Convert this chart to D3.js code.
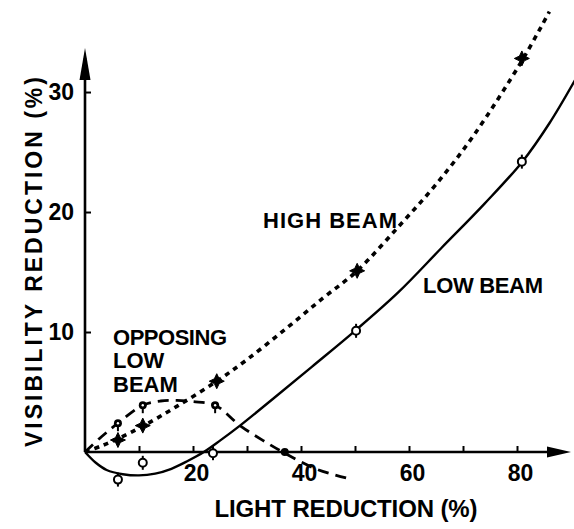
<!DOCTYPE html>
<html>
<head>
<meta charset="utf-8">
<script src="https://cdn.jsdelivr.net/npm/d3@7"></script>
<style>
  html, body { margin: 0; padding: 0; background: #fff; }
  svg { display: block; font-family: "Liberation Sans", Arial, sans-serif; font-weight: bold; }
</style>
</head>
<body>
<svg id="chart" width="574" height="529"></svg>
<script>
// ---------- data ----------
const xTicks = [10, 20, 30, 40, 50, 60, 70, 80];
const xTickLabels = [20, 40, 60, 80];
const yTicks = [10, 20, 30];

// measured points
const lowBeamX = [6.1, 10.7, 23.7, 50.2, 80.9];
const lowBeamY = [-2.3, -0.9, -0.1, 10.1, 24.2];
const highBeamX = [6.1, 10.7, 24.4, 50.4, 80.9];
const highBeamY = [1.0, 2.2, 5.9, 15.1, 32.8];
const opposingX = [6.1, 10.7, 24.1, 37];
const opposingY = [2.4, 3.9, 3.9, 0];

// hand-faired curves as drawn in the figure
const lowCurveX = [0, 2, 4, 7, 10, 13, 16, 19, 22, 25, 28.7, 35, 42, 50, 58, 66, 74, 81, 86, 91];
const lowCurveY = [0, -0.9, -1.5, -1.85, -1.95, -1.8, -1.4, -0.75, 0, 0.95, 2.2, 4.5, 7.1, 10.1, 13.3, 17, 20.7, 24.2, 27.4, 31.2];
const highCurveX = [0, 3, 6.1, 10.7, 17, 24.4, 30, 37, 44, 50.4, 58.3, 65, 72, 80.9, 86];
const highCurveY = [0, 0.5, 1.1, 2.15, 3.8, 5.9, 7.7, 10.2, 12.8, 15.1, 18.9, 22.3, 26.4, 32.6, 36.7];
const oppCurveX = [0, 3, 6.1, 10.7, 14, 17, 20, 24.1, 28.7, 33, 37, 43, 49.6];
const oppCurveY = [0, 1.25, 2.4, 3.9, 4.25, 4.3, 4.2, 3.9, 2.2, 0.95, -0.1, -1.45, -2.3];

// ---------- scales ----------
const svg = d3.select('#chart');
const x = d3.scaleLinear().domain([0, 90]).range([85, 571]);
const y = d3.scaleLinear().domain([0, 33.67]).range([452, 48]);

const zip = (xs, ys) => xs.map((v, i) => [v, ys[i]]);
const line = d3.line().x(d => x(d[0])).y(d => y(d[1])).curve(d3.curveCatmullRom.alpha(0.5));

// ---------- axes ----------
const xAxis = d3.axisBottom(x)
  .tickValues(xTicks)
  .tickSize(-6)
  .tickPadding(13)
  .tickFormat(d => xTickLabels.includes(d) ? d : '');
const gx = svg.append('g').attr('transform', `translate(0,${y(0)})`).call(xAxis);
gx.select('.domain').remove();
gx.selectAll('.tick line').attr('stroke', '#000').attr('stroke-width', 2);
gx.selectAll('.tick text').attr('fill', '#000').attr('font-size', 23).attr('dx', 3)
  .attr('font-family', '"Liberation Sans", Arial, sans-serif').attr('font-weight', 'bold');

const yAxis = d3.axisLeft(y)
  .tickValues(yTicks)
  .tickSize(-6)
  .tickPadding(11);
const gy = svg.append('g').attr('transform', `translate(${x(0)},0)`).call(yAxis);
gy.select('.domain').remove();
gy.selectAll('.tick line').attr('stroke', '#000').attr('stroke-width', 2);
gy.selectAll('.tick text').attr('fill', '#000').attr('font-size', 23)
  .attr('font-family', '"Liberation Sans", Arial, sans-serif').attr('font-weight', 'bold');

// axis lines with arrow heads
svg.append('line')
  .attr('x1', x(0)).attr('y1', y(0)).attr('x2', x(90) - 10).attr('y2', y(0))
  .attr('stroke', '#000').attr('stroke-width', 2.6);
svg.append('path')
  .attr('d', `M${x(90)},${y(0)} L${x(90) - 24},${y(0) - 5.5} L${x(90) - 24},${y(0) + 5.5} Z`)
  .attr('fill', '#000');
svg.append('line')
  .attr('x1', x(0)).attr('y1', y(0)).attr('x2', x(0)).attr('y2', y(33.67) + 10)
  .attr('stroke', '#000').attr('stroke-width', 2.6);
svg.append('path')
  .attr('d', `M${x(0)},${y(33.67)} L${x(0) - 5.5},${y(33.67) + 32} L${x(0) + 5.5},${y(33.67) + 32} Z`)
  .attr('fill', '#000');

// axis titles
svg.append('text')
  .attr('x', 346).attr('y', 517)
  .attr('text-anchor', 'middle')
  .attr('font-size', 24)
  .attr('textLength', 263).attr('lengthAdjust', 'spacing')
  .text('LIGHT REDUCTION (%)');
svg.append('text')
  .attr('transform', 'translate(42,262) rotate(-90)')
  .attr('text-anchor', 'middle')
  .attr('font-size', 23)
  .attr('textLength', 370).attr('lengthAdjust', 'spacing')
  .text('VISIBILITY REDUCTION (%)');

// ---------- curves ----------
svg.append('path')
  .datum(zip(lowCurveX, lowCurveY))
  .attr('d', line)
  .attr('fill', 'none').attr('stroke', '#000').attr('stroke-width', 2.4);

svg.append('path')
  .datum(zip(highCurveX, highCurveY))
  .attr('d', line)
  .attr('fill', 'none').attr('stroke', '#000').attr('stroke-width', 3.6)
  .attr('stroke-dasharray', '5,5');

svg.append('path')
  .datum(zip(oppCurveX, oppCurveY))
  .attr('d', line)
  .attr('fill', 'none').attr('stroke', '#000').attr('stroke-width', 2.8)
  .attr('stroke-dasharray', '11,7');

// ---------- markers ----------
// low beam: open circle with short vertical stem
const lowG = svg.append('g').selectAll('g')
  .data(zip(lowBeamX, lowBeamY))
  .join('g')
  .attr('transform', d => `translate(${x(d[0])},${y(d[1])})`);
lowG.append('line').attr('y1', -7).attr('y2', 7).attr('stroke', '#000').attr('stroke-width', 2);
lowG.append('circle').attr('r', 4).attr('fill', '#fff').attr('stroke', '#000').attr('stroke-width', 2);

// high beam: filled four-point star
const star = d3.lineRadial()
  .angle((d, i) => i * Math.PI / 4)
  .radius((d, i) => i % 2 === 0 ? 7.5 : 3.4)
  .curve(d3.curveLinearClosed);
svg.append('g').selectAll('path')
  .data(zip(highBeamX, highBeamY))
  .join('path')
  .attr('transform', d => `translate(${x(d[0])},${y(d[1])})`)
  .attr('d', star(d3.range(8)))
  .attr('fill', '#000').attr('stroke', '#000').attr('stroke-width', 1).attr('stroke-linejoin', 'round');

// opposing low beam: small dark circle with stem, last one solid dot
const oppG = svg.append('g').selectAll('g')
  .data(zip(opposingX, opposingY))
  .join('g')
  .attr('transform', d => `translate(${x(d[0])},${y(d[1])})`);
oppG.filter((d, i) => i < opposingX.length - 1)
  .append('line').attr('y1', 0).attr('y2', 8).attr('stroke', '#000').attr('stroke-width', 2);
oppG.append('circle').attr('r', 4).attr('fill', '#000');
oppG.filter((d, i) => i < opposingX.length - 1)
  .append('circle').attr('r', 1.2).attr('fill', '#fff');

// ---------- annotations ----------
svg.append('text').attr('x', 263).attr('y', 228).attr('font-size', 22)
  .attr('textLength', 134).attr('lengthAdjust', 'spacing').text('HIGH BEAM');
svg.append('text').attr('x', 423).attr('y', 293).attr('font-size', 22)
  .attr('textLength', 120).attr('lengthAdjust', 'spacing').text('LOW BEAM');
svg.append('text').attr('x', 113).attr('y', 345).attr('font-size', 22)
  .attr('textLength', 114).attr('lengthAdjust', 'spacing').text('OPPOSING');
svg.append('text').attr('x', 113).attr('y', 368).attr('font-size', 22).text('LOW');
svg.append('text').attr('x', 113).attr('y', 392).attr('font-size', 22).text('BEAM');
</script>
</body>
</html>
